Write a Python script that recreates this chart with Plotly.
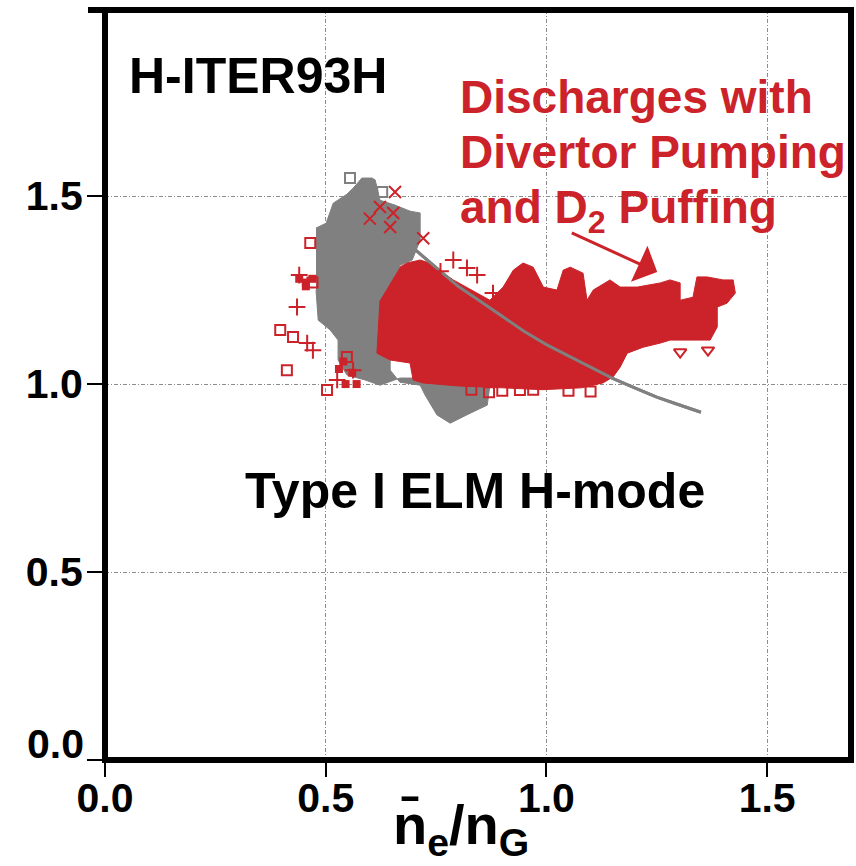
import plotly.graph_objects as go

# ---- data ----
# outline of the grey (Type I ELM H-mode) point cloud
gray_cloud_x = [0.478, 0.501, 0.517, 0.548, 0.562, 0.578, 0.582, 0.605, 0.612, 0.623, 0.657, 0.691, 0.714,
                0.714, 0.696, 0.668, 0.657, 0.646, 0.646, 0.668, 0.714, 0.725, 0.752, 0.782, 0.823, 0.866,
                0.872, 0.827, 0.759, 0.668, 0.623, 0.589, 0.548, 0.528, 0.528, 0.510, 0.483, 0.478]
gray_cloud_y = [1.415, 1.428, 1.481, 1.505, 1.521, 1.543, 1.548, 1.548, 1.543, 1.489, 1.476, 1.460, 1.455,
                1.383, 1.330, 1.316, 1.223, 1.144, 1.037, 1.005, 0.997, 0.971, 0.918, 0.896, 0.920, 0.944,
                0.997, 1.016, 1.016, 1.016, 0.997, 1.011, 1.024, 1.064, 1.117, 1.144, 1.170, 1.250]
gray_open_x = [0.555, 0.628]
gray_open_y = [1.548, 1.511]

# grey scaling curve
curve_x = [0.60, 0.65, 0.70, 0.75, 0.80, 0.85, 0.90, 0.95, 1.00, 1.05, 1.10, 1.15, 1.20, 1.25, 1.30, 1.35]
curve_y = [1.49, 1.43, 1.36, 1.31, 1.26, 1.22, 1.18, 1.14, 1.105, 1.075, 1.045, 1.015, 0.99, 0.965, 0.945, 0.925]

# outline of the red (divertor pumping + D2 puffing) point cloud
red_cloud_x = [0.668, 0.684, 0.714, 0.730, 0.789, 0.843, 0.872, 0.902, 0.925, 0.947, 0.970, 0.993, 1.024,
               1.038, 1.054, 1.083, 1.092, 1.106, 1.144, 1.167, 1.206, 1.258, 1.280, 1.303, 1.303, 1.332,
               1.341, 1.364, 1.400, 1.423, 1.428, 1.409, 1.387, 1.387, 1.371, 1.341, 1.280, 1.258, 1.219,
               1.183, 1.167, 1.151, 1.128, 1.080, 0.990, 0.900, 0.800, 0.720, 0.698, 0.691, 0.646, 0.616,
               0.623]
red_cloud_y = [1.311, 1.322, 1.330, 1.324, 1.277, 1.242, 1.223, 1.258, 1.303, 1.322, 1.311, 1.258, 1.250,
               1.303, 1.311, 1.295, 1.223, 1.250, 1.277, 1.258, 1.258, 1.269, 1.277, 1.269, 1.223, 1.231,
               1.285, 1.285, 1.277, 1.277, 1.242, 1.215, 1.205, 1.152, 1.117, 1.117, 1.117, 1.109, 1.098,
               1.082, 1.045, 1.019, 1.003, 0.990, 0.985, 0.990, 0.995, 1.003, 1.011, 1.056, 1.064, 1.082,
               1.223]

# scattered red points outside the dense cloud
red_xmark_x = [0.657, 0.623, 0.653, 0.721, 0.646, 0.600]
red_xmark_y = [1.511, 1.471, 1.455, 1.388, 1.418, 1.440]
red_cross_x = [0.789, 0.820, 0.843, 0.879, 0.760, 0.435, 0.458, 0.471, 0.526, 0.562, 0.440]
red_cross_y = [1.330, 1.309, 1.290, 1.242, 1.300, 1.205, 1.109, 1.090, 1.011, 1.037, 1.290]
red_square_x = [0.503, 0.548, 0.397, 0.426, 0.412, 0.830, 0.870, 0.900, 0.940, 0.970, 1.050, 1.100, 0.465, 0.470]
red_square_y = [0.984, 1.072, 1.144, 1.125, 1.037, 0.985, 0.978, 0.982, 0.984, 0.985, 0.982, 0.980, 1.375, 1.270]
red_dot_x = [0.440, 0.455, 0.470, 0.455, 0.540, 0.560, 0.545, 0.570, 0.530]
red_dot_y = [1.280, 1.270, 1.280, 1.260, 1.060, 1.030, 1.000, 1.000, 1.040]
red_tri_x = [1.366, 1.303]
red_tri_y = [1.090, 1.085]

x_ticks = [0.0, 0.5, 1.0, 1.5]
x_tick_text = ["0.0", "0.5", "1.0", "1.5"]
y_ticks = [0.0, 0.5, 1.0, 1.5]
y_tick_text = ["", "0.5", "1.0", "1.5"]

RED = "#cc2229"
GRAY = "#808080"
FONT = "Liberation Sans, Arial, Helvetica, sans-serif"

fig = go.Figure()
fig.add_trace(go.Scatter(x=gray_cloud_x, y=gray_cloud_y, fill="toself", mode="lines",
                         line=dict(color=GRAY, width=1), fillcolor=GRAY, hoverinfo="skip"))
fig.add_trace(go.Scatter(x=gray_open_x, y=gray_open_y, mode="markers",
                         marker=dict(symbol="square-open", size=10, color=GRAY, line=dict(width=2))))
fig.add_trace(go.Scatter(x=curve_x, y=curve_y, mode="lines", line=dict(color=GRAY, width=3)))
fig.add_trace(go.Scatter(x=red_cloud_x, y=red_cloud_y, fill="toself", mode="lines",
                         line=dict(color=RED, width=1), fillcolor=RED, hoverinfo="skip"))
fig.add_trace(go.Scatter(x=curve_x[2:], y=curve_y[2:], mode="lines", line=dict(color=GRAY, width=3)))
fig.add_trace(go.Scatter(x=red_xmark_x, y=red_xmark_y, mode="markers",
                         marker=dict(symbol="x-thin-open", size=12, color=RED, line=dict(width=2, color=RED))))
fig.add_trace(go.Scatter(x=red_cross_x, y=red_cross_y, mode="markers",
                         marker=dict(symbol="cross-thin-open", size=12, color=RED, line=dict(width=2, color=RED))))
fig.add_trace(go.Scatter(x=red_square_x, y=red_square_y, mode="markers",
                         marker=dict(symbol="square-open", size=10, color=RED, line=dict(width=2, color=RED))))
fig.add_trace(go.Scatter(x=red_dot_x, y=red_dot_y, mode="markers",
                         marker=dict(symbol="square", size=8, color=RED, line=dict(width=0))))
fig.add_trace(go.Scatter(x=red_tri_x, y=red_tri_y, mode="markers",
                         marker=dict(symbol="triangle-down-open", size=11, color=RED, line=dict(width=2, color=RED))))

axis_common = dict(showline=False, zeroline=False, ticks="outside", tickwidth=2, tickcolor="black",
                   showgrid=True, gridcolor="#8c8c8c", gridwidth=1, griddash="4px,2px,1px,2px",
                   tickfont=dict(family=FONT, size=41, color="black", weight="bold"))
fig.update_xaxes(range=[0, 1.690], tickvals=x_ticks, ticktext=x_tick_text, ticklen=16,
                 ticklabelstandoff=-14, **axis_common)
fig.update_yaxes(range=[0, 1.995], tickvals=y_ticks, ticktext=y_tick_text, ticklen=17,
                 ticklabelstandoff=-4, **axis_common)

fig.update_layout(
    width=856, height=866, margin=dict(l=105, r=5, t=10, b=106),
    plot_bgcolor="white", paper_bgcolor="white", showlegend=False,
    shapes=[
        dict(type="rect", xref="paper", yref="paper", x0=0, x1=1, y0=0, y1=1,
             line=dict(color="black", width=6), layer="above"),
        dict(type="line", xref="paper", yref="paper", x0=-0.0228, x1=0, y0=1, y1=1,
             line=dict(color="black", width=6), layer="above"),
    ],
    annotations=[
        dict(text="H-ITER93H", x=0.347, y=1.819, xref="x", yref="y", showarrow=False,
             font=dict(family=FONT, size=50, color="black", weight="bold")),
        dict(text="Type I ELM H-mode", x=0.838, y=0.715, xref="x", yref="y", showarrow=False,
             font=dict(family=FONT, size=50, color="black", weight="bold")),
        dict(text="Discharges with", x=0.800, y=1.763, xref="x", yref="y", xanchor="left", showarrow=False,
             font=dict(family=FONT, size=46, color=RED, weight="bold")),
        dict(text="Divertor Pumping", x=0.800, y=1.617, xref="x", yref="y", xanchor="left", showarrow=False,
             font=dict(family=FONT, size=46, color=RED, weight="bold")),
        dict(text="and D<sub>2</sub> Puffing", x=0.800, y=1.462, xref="x", yref="y", xanchor="left",
             showarrow=False, font=dict(family=FONT, size=46, color=RED, weight="bold")),
        dict(text="", x=1.251, y=1.298, ax=1.054, ay=1.404, xref="x", yref="y", axref="x", ayref="y",
             showarrow=True, arrowhead=1, arrowsize=2.2, arrowwidth=3, arrowcolor=RED),
        dict(text="0.0", x=-0.0255, y=0.043, xref="paper", yref="y", xanchor="right", showarrow=False,
             font=dict(family=FONT, size=41, color="black", weight="bold")),
        dict(text="n\u0304<sub>e</sub>/n<sub>G</sub>", x=0.807, y=-0.141, xref="x", yref="paper",
             showarrow=False, font=dict(family=FONT, size=56, color="black", weight="bold")),
    ],
)

fig.write_html("out.html")
